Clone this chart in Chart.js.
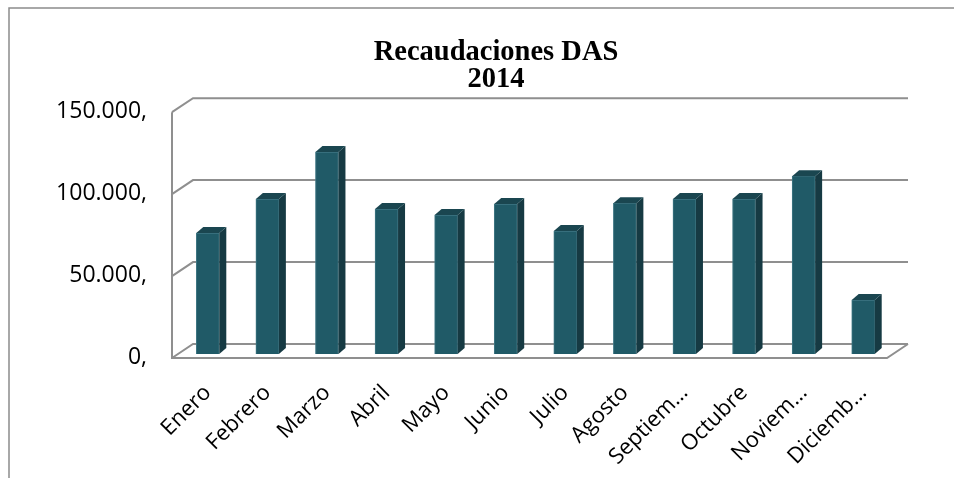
<!DOCTYPE html>
<html>
<head>
<meta charset="utf-8">
<script src="https://cdn.jsdelivr.net/npm/chart.js"></script>
<style>
  html, body { margin: 0; padding: 0; background: #fff; }
</style>
</head>
<body>
<canvas id="recaudaciones" width="954" height="478"></canvas>
<script>
// datos
var meses = ['Enero', 'Febrero', 'Marzo', 'Abril', 'Mayo', 'Junio', 'Julio',
             'Agosto', 'Septiem…', 'Octubre', 'Noviem…', 'Diciemb…'];
var recaudado = [73800, 94500, 123200, 88400, 84800, 91500, 75000,
                 92000, 94500, 94500, 108500, 32900];
var valoresEje = [0, 50000, 100000, 150000];

function formatoEje(v) {
    var s = String(Math.round(v));
    return s.replace(/\B(?=(\d{3})+(?!\d))/g, '.') + ',';
}

// desplazamientos de la "profundidad" 3D
var frente = { dx: -6, dy: 4 };
var fondo = { dx: 15, dy: -10 };
var barra = { dx: 7, dy: -6 };

var efecto3d = {
    id: 'efecto3d',
    beforeDraw: function(chart) {
        var ctx = chart.ctx;
        ctx.save();
        ctx.strokeStyle = '#8c8c8c';
        ctx.lineWidth = 1.5;
        ctx.beginPath();
        ctx.moveTo(9, 478);
        ctx.lineTo(9, 8);
        ctx.lineTo(954, 8);
        ctx.stroke();
        ctx.restore();
    },
    beforeDatasetsDraw: function(chart) {
        var ctx = chart.ctx;
        var area = chart.chartArea;
        var y = chart.scales.y;
        ctx.save();
        ctx.strokeStyle = '#8f8f8f';
        ctx.lineWidth = 2;
        ctx.beginPath();
        valoresEje.forEach(function(v) {
            var py = y.getPixelForValue(v);
            ctx.moveTo(area.left + frente.dx, py + frente.dy);
            ctx.lineTo(area.left + fondo.dx, py + fondo.dy);
            ctx.lineTo(area.right + fondo.dx, py + fondo.dy);
        });
        var top = y.getPixelForValue(valoresEje[valoresEje.length - 1]);
        var base = y.getPixelForValue(0);
        // eje frontal izquierdo
        ctx.moveTo(area.left + frente.dx, top + frente.dy);
        ctx.lineTo(area.left + frente.dx, base + frente.dy);
        // suelo
        ctx.lineTo(area.right + frente.dx, base + frente.dy);
        ctx.lineTo(area.right + fondo.dx, base + fondo.dy);
        ctx.stroke();
        ctx.restore();
    },
    afterDatasetsDraw: function(chart) {
        var ctx = chart.ctx;
        var meta = chart.getDatasetMeta(0);
        ctx.save();
        meta.data.forEach(function(bar) {
            var p = bar.getProps(['x', 'y', 'base', 'width'], true);
            var l = p.x - p.width / 2, r = p.x + p.width / 2;
            // lado
            ctx.fillStyle = '#163a43';
            ctx.beginPath();
            ctx.moveTo(r, p.y);
            ctx.lineTo(r + barra.dx, p.y + barra.dy);
            ctx.lineTo(r + barra.dx, p.base + barra.dy);
            ctx.lineTo(r, p.base);
            ctx.closePath();
            ctx.fill();
            // tapa
            ctx.fillStyle = '#1a4650';
            ctx.beginPath();
            ctx.moveTo(l, p.y);
            ctx.lineTo(l + barra.dx, p.y + barra.dy);
            ctx.lineTo(r + barra.dx, p.y + barra.dy);
            ctx.lineTo(r, p.y);
            ctx.closePath();
            ctx.fill();
        });
        ctx.restore();
    }
};

var ctx = document.getElementById('recaudaciones').getContext('2d');
new Chart(ctx, {
    type: 'bar',
    data: {
        labels: meses,
        datasets: [{
            label: 'Recaudaciones',
            data: recaudado,
            backgroundColor: '#205a67',
            borderColor: '#3f7784',
            borderWidth: 1,
            barThickness: 23
        }]
    },
    plugins: [efecto3d],
    options: {
        responsive: false,
        animation: false,
        layout: { padding: { left: 38, right: 0, top: 0, bottom: 0 } },
        plugins: {
            legend: { display: false },
            tooltip: { enabled: false },
            title: {
                display: true,
                text: ['Recaudaciones DAS', '2014'],
                color: '#000',
                font: { family: 'Liberation Serif', size: 28.5, weight: 'bold', lineHeight: 0.95 },
                padding: { top: 39.5, bottom: 14.5 }
            }
        },
        scales: {
            y: {
                min: 0,
                max: 150000,
                afterFit: function(scale) { scale.width = 140; },
                grid: { display: false, drawTicks: false },
                border: { display: false },
                ticks: {
                    stepSize: 50000,
                    padding: 31,
                    labelOffset: 3,
                    color: '#000',
                    font: { family: 'Open Sans', size: 23 },
                    callback: formatoEje
                }
            },
            derecha: {
                position: 'right',
                afterFit: function(scale) { scale.width = 61; },
                grid: { display: false, drawTicks: false },
                border: { display: false },
                ticks: { display: false }
            },
            x: {
                afterFit: function(scale) { scale.height = 124; },
                grid: { display: false, drawTicks: false },
                border: { display: false },
                ticks: {
                    autoSkip: false,
                    maxRotation: 45,
                    minRotation: 45,
                    padding: 26,
                    color: '#000',
                    font: { family: 'Open Sans', size: 22 }
                }
            }
        }
    }
});
</script>
</body>
</html>
